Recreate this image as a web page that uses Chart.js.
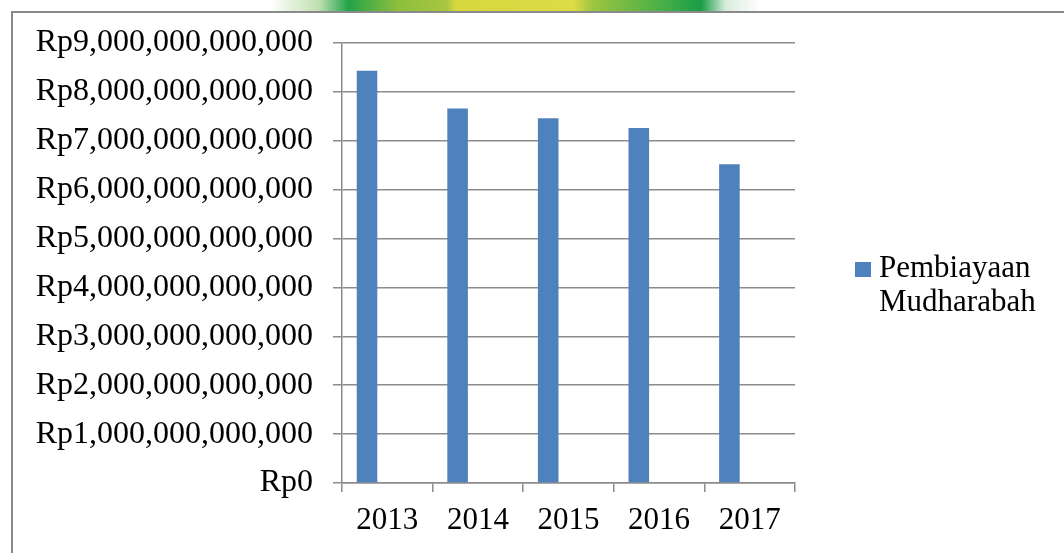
<!DOCTYPE html>
<html>
<head>
<meta charset="utf-8">
<script src="https://cdn.jsdelivr.net/npm/chart.js@4"></script>
<style>
  html, body { margin: 0; padding: 0; background: #ffffff; }
  #c { display: block; }
</style>
</head>
<body>
<canvas id="c" width="1064" height="553"></canvas>
<script>
// ---- data ----
const categories = ['2013', '2014', '2015', '2016', '2017'];
const seriesLabel = 'Pembiayaan Mudharabah';
const pembiayaanMudharabah = [8.43e12, 7.66e12, 7.46e12, 7.26e12, 6.52e12];
const emptySeries = [null, null, null, null, null];
const yMin = 0;
const yMax = 9e12;
const yStep = 1e12;

// ---- styles ----
const FONT = "'Liberation Serif', 'Times New Roman', serif";
const BAR_COLOR = '#4F81BD';
const GRID_COLOR = '#8c8c8c';

function rpLabel(v) {
  return 'Rp' + Number(v).toLocaleString('en-US');
}

const backgroundPlugin = {
  id: 'bgFrame',
  beforeDraw(chart) {
    const ctx = chart.ctx;
    const w = chart.width, h = chart.height;
    ctx.save();
    ctx.fillStyle = '#ffffff';
    ctx.fillRect(0, 0, w, h);
    // faint logo watermark peeking above the frame
    const g = ctx.createLinearGradient(270, 0, 760, 0);
    g.addColorStop(0.00, 'rgba(255,255,255,1)');
    g.addColorStop(0.10, '#bfe0b0');
    g.addColorStop(0.16, '#22a348');
    g.addColorStop(0.26, '#8cbf3c');
    g.addColorStop(0.36, '#a8c640');
    g.addColorStop(0.38, '#d6d83e');
    g.addColorStop(0.62, '#dcdc44');
    g.addColorStop(0.66, '#9cc440');
    g.addColorStop(0.80, '#48b048');
    g.addColorStop(0.88, '#1a9c48');
    g.addColorStop(0.93, '#d8ecdc');
    g.addColorStop(1.00, 'rgba(255,255,255,1)');
    ctx.fillStyle = g;
    ctx.fillRect(270, 0, 490, 11);
    // frame
    ctx.strokeStyle = '#8a8a8a';
    ctx.lineWidth = 2;
    ctx.beginPath();
    ctx.moveTo(12, h);
    ctx.lineTo(12, 12);
    ctx.lineTo(w, 12);
    ctx.stroke();
    ctx.restore();
  }
};

const sideLegendPlugin = {
  id: 'sideLegend',
  afterDraw(chart) {
    const ctx = chart.ctx;
    const ds = chart.data.datasets[0];
    const lines = ds.label.split(' ');
    ctx.save();
    ctx.fillStyle = ds.backgroundColor;
    ctx.fillRect(855, 262, 16, 15);
    ctx.fillStyle = '#000000';
    ctx.font = '31px ' + FONT;
    ctx.textAlign = 'left';
    ctx.textBaseline = 'alphabetic';
    lines.forEach((t, i) => ctx.fillText(t, 879, 277 + i * 34));
    ctx.restore();
  }
};

new Chart(document.getElementById('c'), {
  type: 'bar',
  data: {
    labels: categories,
    datasets: [
      {
        label: seriesLabel,
        data: pembiayaanMudharabah,
        backgroundColor: BAR_COLOR,
        borderWidth: 0,
        categoryPercentage: 0.896,
        barPercentage: 0.507
      },
      {
        label: '',
        data: emptySeries,
        backgroundColor: BAR_COLOR,
        borderWidth: 0,
        categoryPercentage: 0.896,
        barPercentage: 0.507
      }
    ]
  },
  options: {
    responsive: false,
    maintainAspectRatio: false,
    devicePixelRatio: 1,
    animation: false,
    events: [],
    layout: { padding: { left: 12, top: 43, right: 269, bottom: 0 } },
    plugins: {
      legend: { display: false },
      tooltip: { enabled: false },
      title: { display: false }
    },
    scales: {
      x: {
        offset: true,
        grid: {
          display: true,
          offset: true,
          drawOnChartArea: false,
          drawTicks: true,
          tickLength: 9,
          color: GRID_COLOR,
          lineWidth: 1.5
        },
        border: { display: true, color: GRID_COLOR, width: 1.5 },
        ticks: {
          color: '#000000',
          padding: 10,
          maxRotation: 0,
          font: { family: FONT, size: 31 }
        },
        afterFit(scale) { scale.height = 70; }
      },
      y: {
        min: yMin,
        max: yMax,
        grid: {
          color: GRID_COLOR,
          lineWidth: 1.5,
          drawTicks: true,
          tickLength: 9
        },
        border: { display: true, color: GRID_COLOR, width: 1.5 },
        ticks: {
          stepSize: yStep,
          color: '#000000',
          padding: 20,
          font: { family: FONT, size: 32 },
          callback: (v) => rpLabel(v)
        },
        afterFit(scale) { scale.width = 330; }
      }
    }
  },
  plugins: [backgroundPlugin, sideLegendPlugin]
});
</script>
</body>
</html>
